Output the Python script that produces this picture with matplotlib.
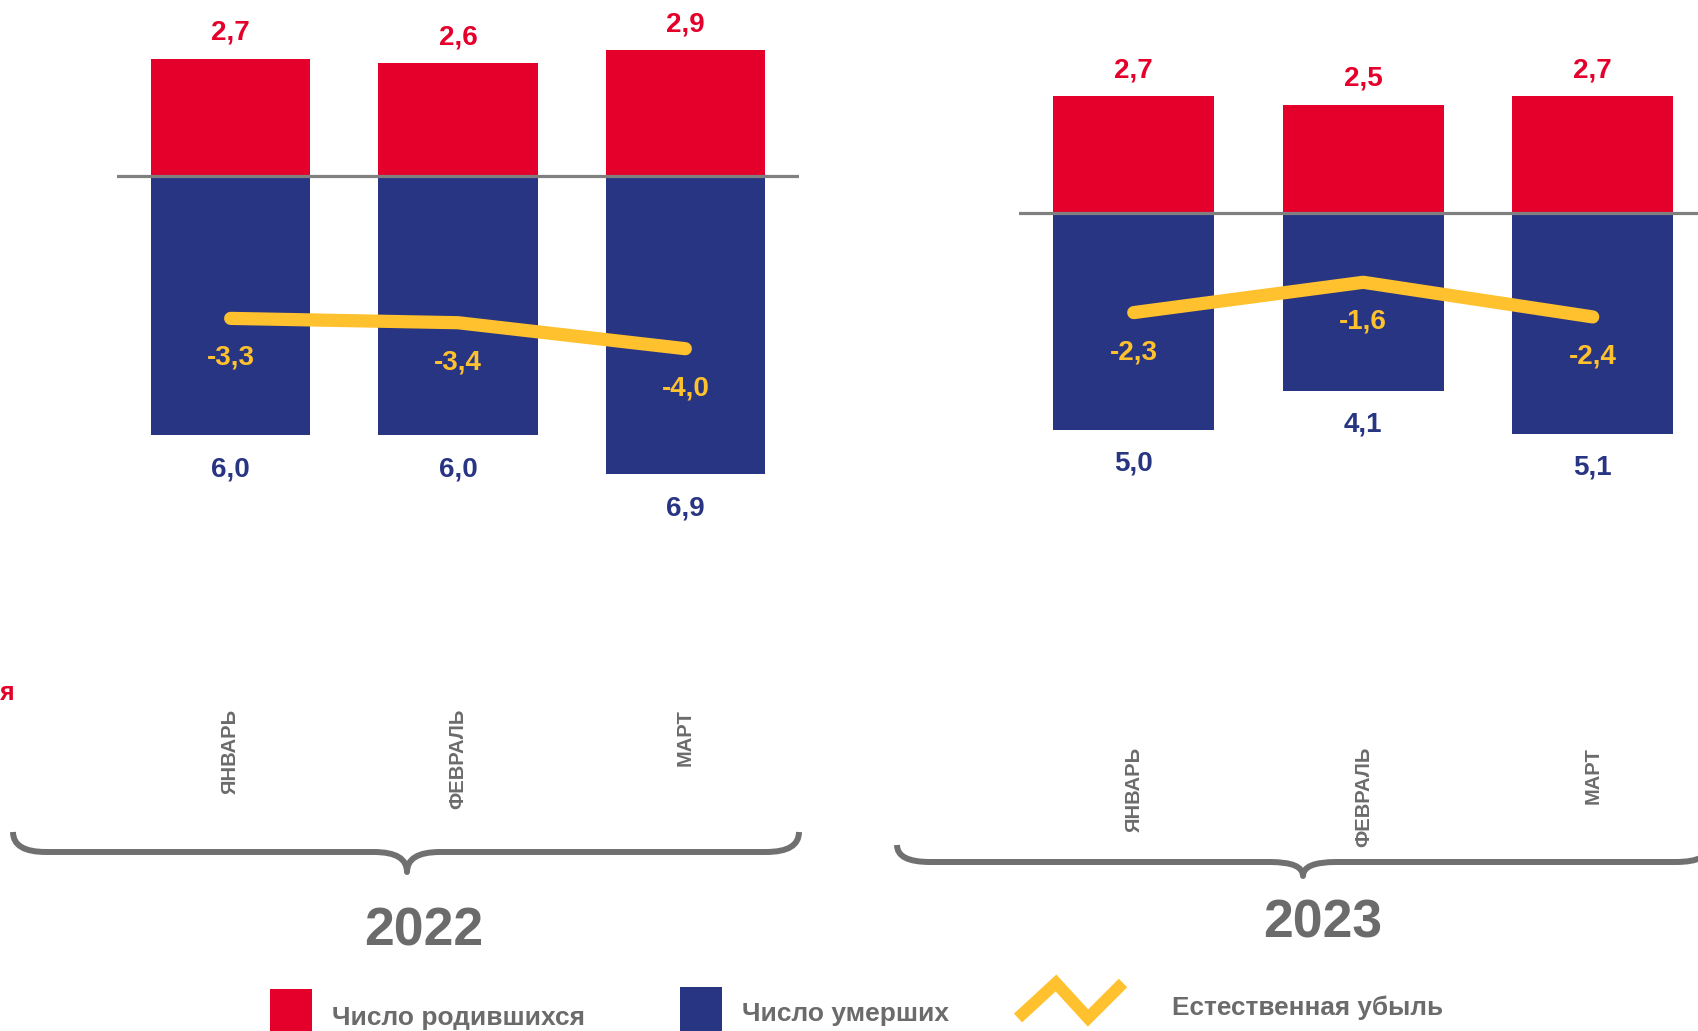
import matplotlib.pyplot as plt
from matplotlib.path import Path
from matplotlib.patches import PathPatch, Rectangle

plt.rcParams['font.family'] = ['Liberation Sans', 'DejaVu Sans']
plt.rcParams['font.weight'] = 'bold'

# Data
months = ["ЯНВАРЬ", "ФЕВРАЛЬ", "МАРТ"]
years = ["2022", "2023"]
births = [[2.7, 2.6, 2.9], [2.7, 2.5, 2.7]]
deaths = [[6.0, 6.0, 6.9], [5.0, 4.1, 5.1]]
natural = [[-3.3, -3.4, -4.0], [-2.3, -1.6, -2.4]]

RED = "#E4002B"
BLUE = "#283583"
YELLOW = "#FFC12D"
GRAY = "#6B6B6B"

W, H = 1698, 1031
fig = plt.figure(figsize=(W / 100, H / 100), dpi=100)


def fmt(v):
    return f"{v:.1f}".replace(".", ",")


def px_rect(x0, x1, top, bottom):
    return [x0 / W, 1 - bottom / H, (x1 - x0) / W, (bottom - top) / H]


# panel layout in pixels: (left, right, zero line y), month label top
SCALE = 43.3  # pixels per unit
panels = [((117, 799, 175.5), 709), ((1019, 1707.5, 213), 747)]

for k, ((x0, x1, zy), mtop) in enumerate(panels):
    ax = fig.add_axes(px_rect(x0, x1, zy - 4 * SCALE, zy + 7.5 * SCALE))
    ax.set_xlim(-0.5, 2.5)
    ax.set_ylim(-7.5, 4)
    ax.axis("off")
    xs = range(len(months))
    neg = [-d for d in deaths[k]]
    ax.bar(xs, births[k], width=0.70, color=RED, zorder=2)
    ax.bar(xs, neg, width=0.70, color=BLUE, zorder=2)
    ax.axhline(0, color="#808080", lw=2.3, zorder=3)
    ax.plot(xs, natural[k], color=YELLOW, lw=9.5, solid_capstyle="round",
            solid_joinstyle="round", zorder=4)
    for i in xs:
        ax.annotate(fmt(births[k][i]), (i, births[k][i]), xytext=(0, 13.5),
                    textcoords="offset points", ha="center", va="baseline",
                    fontsize=20, color=RED, fontweight="bold")
        ax.annotate(fmt(deaths[k][i]), (i, neg[i]), xytext=(0, -29.5),
                    textcoords="offset points", ha="center", va="baseline",
                    fontsize=20, color=BLUE, fontweight="bold")
        ax.annotate(fmt(natural[k][i]), (i, natural[k][i]), xytext=(0, -33.5),
                    textcoords="offset points", ha="center", va="baseline",
                    fontsize=20, color=YELLOW, fontweight="bold", zorder=5)
        # month labels
        xm = x0 + (i + 0.5) * (x1 - x0) / 3
        fig.text(xm / W, 1 - mtop / H, months[i], rotation=90, ha="center",
                 va="top", fontsize=14.5, color=GRAY, fontweight="bold")

# overlay in pixel coordinates for braces and legend
ov = fig.add_axes([0, 0, 1, 1])
ov.set_xlim(0, W)
ov.set_ylim(H, 0)
ov.axis("off")
ov.patch.set_alpha(0)


def brace(x0, x1, xc, yt, ym, ytip, r=33):
    verts = [(x0, yt), (x0, ym), (x0 + r, ym), (xc - r, ym), (xc, ym), (xc, ytip),
             (xc, ym), (xc + r, ym), (x1 - r, ym), (x1, ym), (x1, yt)]
    codes = [Path.MOVETO, Path.CURVE3, Path.CURVE3, Path.LINETO, Path.CURVE3, Path.CURVE3,
             Path.CURVE3, Path.CURVE3, Path.LINETO, Path.CURVE3, Path.CURVE3]
    ov.add_patch(PathPatch(Path(verts, codes), fill=False, ec="#707070", lw=4.3,
                           capstyle="butt", joinstyle="round"))


brace(13, 799, 407, 832, 852, 872)
brace(897, 1709, 1303, 845, 862, 876)

ov.text(424, 945, years[0], ha="center", va="baseline", fontsize=38.5, color=GRAY,
        fontweight="bold")
ov.text(1323, 938, years[1], ha="center", va="baseline", fontsize=38.5, color=GRAY,
        fontweight="bold")

# cut-off label at the left edge
ov.text(0, 693, "я", ha="left", va="center", fontsize=18, color=RED, fontweight="bold")

# legend
ov.add_patch(Rectangle((270, 989), 42, 50, color=RED, lw=0))
ov.add_patch(Rectangle((680, 987), 42, 50, color=BLUE, lw=0))
ov.plot([1018, 1056, 1088, 1123], [1018, 983, 1018, 983], color=YELLOW, lw=8.6,
        solid_capstyle="butt", solid_joinstyle="miter")
ov.text(332, 1025, "Число родившихся", ha="left", va="baseline", fontsize=19,
        color=GRAY, fontweight="bold")
ov.text(742, 1021, "Число умерших", ha="left", va="baseline", fontsize=19,
        color=GRAY, fontweight="bold")
ov.text(1172, 1015, "Естественная убыль", ha="left", va="baseline", fontsize=18.8,
        color=GRAY, fontweight="bold")

fig.savefig("out.png", dpi=100)
